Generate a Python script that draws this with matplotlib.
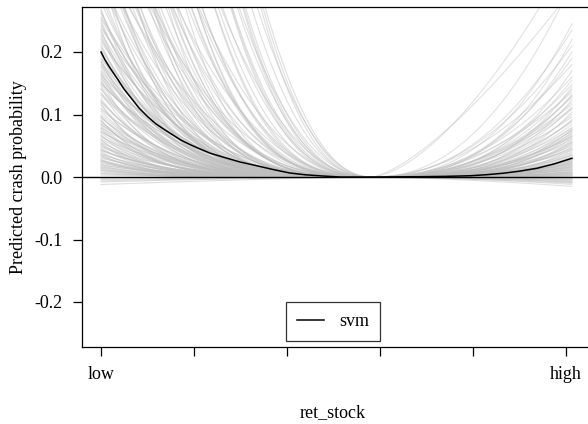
import matplotlib
matplotlib.use("Agg")
import matplotlib.pyplot as plt
import numpy as np

plt.rcParams['font.family'] = ['Liberation Serif', 'DejaVu Serif']

# ret_stock scaled to [0, 1]; individual curves are centred at x_center
x_center = 0.583
x_end = 1.013

# average (pdp) curve
pdp_x = [0.0, 0.008, 0.017, 0.027, 0.037, 0.049, 0.065, 0.082, 0.101, 0.118,
         0.138, 0.155, 0.172, 0.191, 0.209, 0.235, 0.262, 0.299, 0.335, 0.370,
         0.406, 0.440, 0.477, 0.514, 0.583, 0.686, 0.740, 0.794, 0.830, 0.865,
         0.900, 0.938, 0.975, 1.013]
pdp_y = [0.200, 0.188, 0.177, 0.166, 0.155, 0.141, 0.126, 0.110, 0.096, 0.085,
         0.075, 0.067, 0.059, 0.052, 0.046, 0.038, 0.032, 0.024, 0.018, 0.012,
         0.0064, 0.0035, 0.0016, 0.0, 0.0, 0.0005, 0.001, 0.002, 0.0037, 0.006,
         0.0093, 0.014, 0.021, 0.030]

# individual curves, low side: value at x=0 and how fast it bends to the centre
ice_left = [-0.012, -0.008, -0.006, -0.004, -0.002, 0.0, 0.003, 0.005,
            0.006, 0.008, 0.010, 0.012, 0.014, 0.016, 0.018, 0.020, 0.022, 0.024,
            0.026, 0.028, 0.030, 0.032, 0.034, 0.036, 0.038, 0.040, 0.042, 0.044,
            0.046, 0.048, 0.050, 0.011, 0.019, 0.027, 0.035, 0.043, 0.015, 0.025,
            0.052, 0.055, 0.058, 0.061, 0.064, 0.067, 0.070, 0.073, 0.076, 0.079,
            0.082, 0.085, 0.088, 0.091, 0.094, 0.097, 0.100, 0.060, 0.066, 0.072,
            0.078, 0.084, 0.090, 0.096, 0.054,
            0.105, 0.110, 0.115, 0.120, 0.125, 0.130, 0.135, 0.140, 0.145, 0.150,
            0.155, 0.160, 0.165, 0.170, 0.175, 0.180, 0.185, 0.190, 0.195, 0.200,
            0.118, 0.148,
            0.108, 0.122, 0.133, 0.142, 0.152, 0.158, 0.163, 0.168, 0.178, 0.183,
            0.188, 0.198, 0.208, 0.216, 0.224, 0.232, 0.238, 0.246, 0.254, 0.265,
            0.205, 0.212, 0.220, 0.228, 0.235, 0.242, 0.250, 0.256, 0.262, 0.268,
            0.28, 0.30, 0.32, 0.34, 0.36, 0.38, 0.40, 0.43, 0.46, 0.50, 0.54, 0.58,
            0.62, 0.67, 0.72, 0.78, 0.85, 0.92, 1.00, 1.10, 1.20, 1.32, 1.45, 1.60,
            1.75, 1.90, 2.10, 2.30, 0.48, 0.65,
            0.29, 0.31, 0.33, 0.35, 0.37, 0.39, 0.42, 0.44, 0.47, 0.52, 0.56, 0.60,
            0.64, 0.69, 0.74, 0.80, 0.88, 0.95, 1.05, 1.15, 1.25, 1.38, 1.52, 1.68,
            1.82, 2.00, 2.20, 0.33, 0.41, 0.55, 0.70, 0.90, 1.12, 0.36, 0.45, 0.60,
            0.76, 0.98, 1.30, 1.65]
ice_left_bend = [1.3, 1.5, 1.4, 1.6, 1.5, 2.0, 3.0, 3.5,
                 4.0, 5.0, 3.5, 4.5, 6.0, 3.8, 5.5, 4.2, 3.6, 5.0, 4.4, 6.0, 3.4, 4.8,
                 5.2, 3.9, 4.6, 5.8, 3.7, 4.1, 5.4, 3.3, 4.9, 6.2, 3.5, 4.3, 5.6, 3.8,
                 4.7, 5.1,
                 4.5, 3.8, 5.2, 4.0, 3.4, 5.6, 4.3, 3.6, 4.9, 3.2, 5.0, 4.1, 3.7, 5.3,
                 3.5, 4.6, 3.9, 5.8, 4.4, 3.3, 4.8, 3.6, 5.1, 4.2, 6.0,
                 4.2, 3.5, 5.0, 3.8, 4.5, 3.2, 4.8, 3.6, 4.1, 3.0, 5.2, 3.7, 4.4, 3.3,
                 4.0, 3.5, 4.7, 3.1, 4.3, 3.8, 5.5, 2.9,
                 3.4, 4.0, 3.1, 4.6, 3.3, 3.9, 2.8, 4.2, 3.5, 3.0, 4.4, 3.2, 3.7, 2.9,
                 4.1, 3.4, 2.7, 3.8, 3.1, 3.6,
                 3.6, 4.2, 3.0, 3.8, 4.5, 3.3, 4.0, 2.8, 3.5, 4.4,
                 3.5, 4.0, 3.2, 4.5, 3.8, 3.0, 4.2, 3.4, 2.8, 3.9, 3.1, 3.6, 2.7, 3.3,
                 2.9, 3.5, 2.6, 3.0, 2.8, 3.2, 2.5, 2.9, 2.4, 2.7, 2.3, 2.6, 2.2, 2.4,
                 4.0, 3.7,
                 3.8, 3.3, 4.2, 3.0, 3.6, 4.4, 3.1, 3.9, 3.5, 2.9, 3.7, 3.2, 3.9, 3.0,
                 3.4, 2.8, 3.6, 3.1, 2.9, 3.3, 2.7, 3.0, 2.6, 2.8, 2.5, 2.7, 2.3, 5.0,
                 4.6, 4.8, 4.4, 4.2, 3.8, 2.6, 2.5, 2.4, 2.3, 2.2, 2.2, 2.1]

# high side: value at the last x and bend away from the centre
ice_right = [-0.015, -0.012, -0.010, -0.009, -0.008, -0.007, -0.006, -0.005,
             -0.004, -0.003, -0.002, -0.001,
             0.000, 0.001, 0.002, 0.003, 0.004, 0.005, 0.006, 0.007, 0.008, 0.009,
             0.010, 0.011, 0.012, 0.013, 0.014, 0.015, 0.016, 0.017, 0.018, 0.019,
             0.020, 0.021, 0.022, 0.023, 0.024, 0.025, 0.026, 0.027, 0.028, 0.029,
             0.030, 0.004, 0.008, 0.012, 0.016, 0.020, 0.024, 0.028, 0.002, 0.006,
             0.032, 0.034, 0.036, 0.038, 0.040, 0.042, 0.044, 0.046, 0.048, 0.050,
             0.052, 0.054, 0.056, 0.058, 0.060, 0.062, 0.064, 0.066, 0.068, 0.070,
             0.072, 0.074, 0.076, 0.078, 0.080, 0.035, 0.045, 0.055, 0.065, 0.075,
             0.084, 0.088, 0.092, 0.096, 0.100, 0.104, 0.108, 0.112, 0.116, 0.120,
             0.124, 0.128, 0.132, 0.136, 0.140, 0.144, 0.148, 0.090, 0.110, 0.130,
             0.155, 0.16, 0.17, 0.18, 0.19, 0.20, 0.21, 0.22, 0.235, 0.245,
             0.30, 0.36, 0.31]
ice_right_bend = [1.5, 1.8, 1.4, 2.0, 1.6, 2.2, 1.7, 2.5, 1.9, 2.3, 1.5, 2.0,
                  3.0, 3.5, 4.0, 3.2, 3.8, 2.8, 4.2, 3.4, 3.0, 3.6, 4.5, 2.9, 3.3, 3.9,
                  3.1, 4.1, 2.7, 3.5, 3.8, 3.2, 4.3, 2.8, 3.6, 3.0, 4.0, 3.4, 2.9, 3.7,
                  3.1, 4.4, 3.3, 2.6, 3.9, 3.2, 3.5, 2.8, 4.1, 3.0, 3.6, 2.7,
                  3.2, 2.8, 3.6, 3.0, 3.4, 2.6, 3.8, 2.9, 3.3, 2.7, 3.5, 3.1, 2.5, 3.7,
                  2.8, 3.2, 2.6, 3.4, 3.0, 2.9, 3.6, 2.7, 3.3, 2.5, 3.1, 3.0, 2.8, 3.5,
                  2.6, 3.2,
                  2.8, 2.5, 3.0, 2.3, 2.7, 3.2, 2.4, 2.9, 2.2, 2.6, 3.1, 2.4, 2.8, 2.1,
                  2.5, 3.0, 2.3, 2.7, 2.2, 2.6,
                  2.6, 2.2, 2.8, 2.0, 2.4, 2.6, 2.1, 2.7, 2.2, 2.5,
                  1.4, 1.6, 2.2]

tick_pos = [0.0, 0.2, 0.4, 0.6, 0.8, 1.0]
tick_lab = ['low', '', '', '', '', 'high']

fig = plt.figure(figsize=(5.88, 4.24), dpi=100)
ax = fig.add_axes([82 / 588, 77 / 424, 509 / 588, 340 / 424])

grey = '#bebebe'
xl = np.linspace(0, x_center, 120)
for a, p in zip(ice_left, ice_left_bend):
    ax.plot(xl, a * ((x_center - xl) / x_center) ** p, color=grey, lw=0.8, alpha=0.5)
xr = np.linspace(x_center, x_end, 90)
for b, q in zip(ice_right, ice_right_bend):
    ax.plot(xr, b * ((xr - x_center) / (x_end - x_center)) ** q, color=grey, lw=0.8, alpha=0.45)

ax.axhline(0, color='black', lw=1.0)
ax.plot(pdp_x, pdp_y, color='black', lw=1.1, label='svm')

ax.set_xlim(-0.041, 1.054)
ax.set_ylim(-0.272, 0.272)
ax.set_xticks(tick_pos)
ax.set_xticklabels(tick_lab)
ax.set_yticks([-0.2, -0.1, 0.0, 0.1, 0.2])
ax.set_yticklabels(['-0.2', '-0.1', '0.0', '0.1', '0.2'])
ax.tick_params(direction='out', length=6.5, width=0.9, labelsize=13, pad=7.2)

for s in ax.spines.values():
    s.set_linewidth(0.9)

ax.set_xlabel('ret_stock', fontsize=13)
ax.xaxis.set_label_coords(0.493, -0.168)
ax.set_ylabel('Predicted crash probability', fontsize=13)
ax.yaxis.set_label_coords(-0.108, 0.5)

leg = ax.legend(loc='lower center', bbox_to_anchor=(0.493, 0.018), fontsize=13,
                frameon=True, fancybox=False, handlelength=1.5, handletextpad=0.85,
                borderpad=0.6, borderaxespad=0)
leg.get_frame().set_edgecolor('black')
leg.get_frame().set_linewidth(0.9)

fig.savefig('out.png', dpi=100)
